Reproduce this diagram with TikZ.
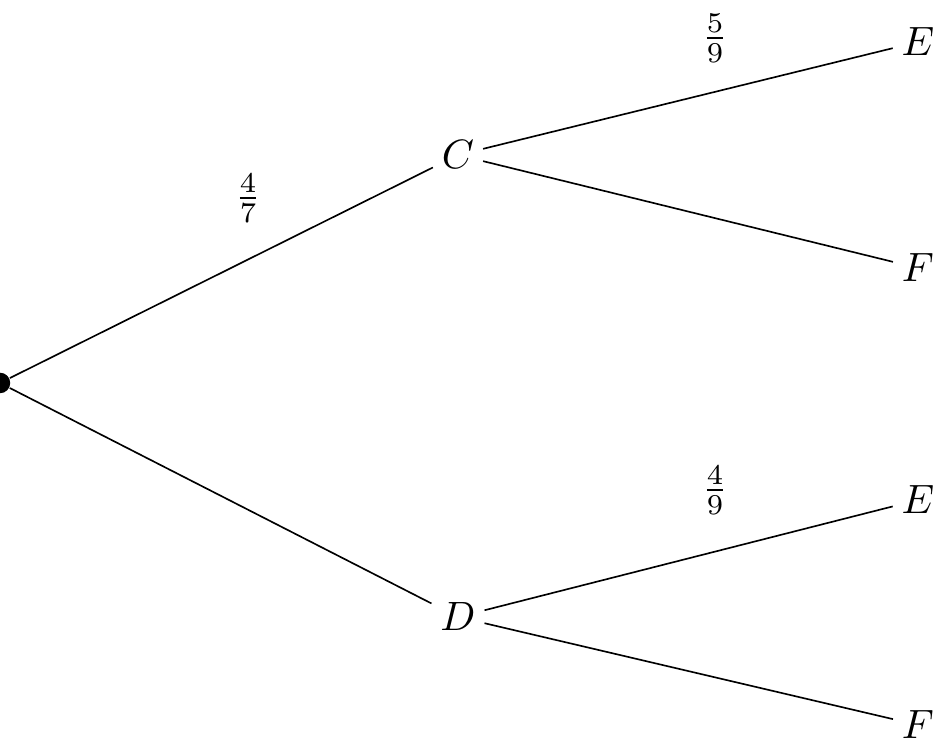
\documentclass[tikz,border=0pt]{standalone}
\begin{document}
\begin{tikzpicture}[x=0.00857cm,y=-0.00857cm,
  lab/.style={inner sep=2pt},
  edge/.style={line width=0.4pt}]
\useasboundingbox (0,0) rectangle (946,752);
\node[circle,fill,inner sep=0pt,minimum size=5pt] (r) at (0,383) {};
\node[lab] (c) at (458,155) {$C$};
\node[lab] (d) at (458,617) {$D$};
\node[lab] (e1) at (918,42) {$E$};
\node[lab] (f1) at (918,268) {$F$};
\node[lab] (e2) at (918,500) {$E$};
\node[lab] (f2) at (918,725) {$F$};
\draw[edge] (r) -- (c);
\draw[edge] (r) -- (d);
\draw[edge] (c) -- (e1);
\draw[edge] (c) -- (f1);
\draw[edge] (d) -- (e2);
\draw[edge] (d) -- (f2);
\node (p1) at (248,198) {$\frac{4}{7}$};
\node (p2) at (715,38) {$\frac{5}{9}$};
\node (p3) at (715,490) {$\frac{4}{9}$};
\end{tikzpicture}
\end{document}
